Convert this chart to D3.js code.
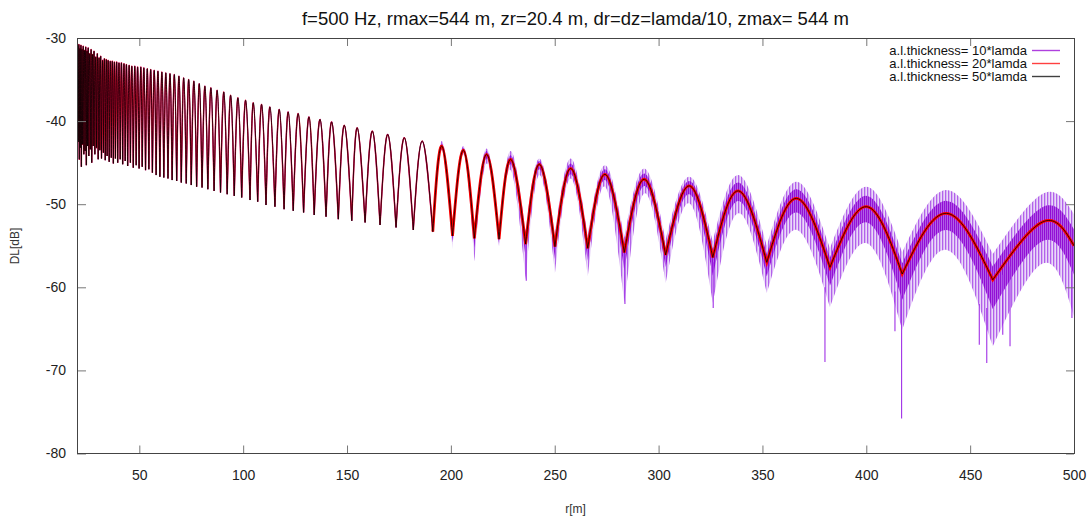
<!DOCTYPE html>
<html>
<head>
<meta charset="utf-8">
<script src="https://cdn.jsdelivr.net/npm/d3@7"></script>
<style>
body { margin: 0; background: #fff; }
svg { display: block; font-family: "Liberation Sans", Arial, sans-serif; }
</style>
</head>
<body>
<div id="chart"></div>
<script>
// series labels + axis ticks
var seriesNames = ['a.l.thickness= 10*lamda', 'a.l.thickness= 20*lamda', 'a.l.thickness= 50*lamda'];
var seriesColors = ['#9400d3', '#ff0000', '#000000'];
var xTicks = [50, 100, 150, 200, 250, 300, 350, 400, 450, 500];
var yTicks = [-30, -40, -50, -60, -70, -80];

// interference lobes (shared by 20*lamda and 50*lamda)
// maxima of each lobe
var peakR = [20.4, 20.9, 21.4, 21.9, 22.4, 23.0, 23.6, 24.2, 24.8, 25.4, 26.1, 26.8, 27.5, 28.2, 29.0,
    29.8, 30.6, 31.4, 32.3, 33.2, 34.1, 35.0, 36.0, 37.0, 38.0, 39.1, 40.2, 41.4, 42.6, 43.8, 45.1, 46.4,
    47.8, 49.2, 50.7, 52.2, 53.8, 55.5, 57.2, 59.0, 60.9, 62.8, 64.8, 66.9, 69.1, 71.4, 73.8, 76.3, 78.9,
    81.6, 84.5, 87.5, 90.7, 94.0, 97.5, 101.2, 104.9, 108.9, 112.9, 117.4, 121.7, 126.5, 131.7, 137.0,
    142.6, 148.7, 154.9, 162.2, 169.6, 177.6, 186.2, 195.6, 206.0, 217.2, 228.8, 242.6, 257.7, 274.2,
    293.1, 314.8, 338.4, 366.5, 400.2, 438.7, 485.2];
var peakDB = [-31.2, -30.8, -31.3, -30.9, -31.4, -31.0, -31.5, -31.1, -31.6, -31.2, -31.9, -31.4, -32.0,
    -31.6, -32.3, -31.9, -32.4, -32.2, -32.7, -32.5, -32.6, -32.7, -32.8, -32.8, -32.9, -32.9, -33.0, -33.0,
    -33.1, -33.2, -33.3, -33.4, -33.4, -33.5, -33.5, -33.6, -33.7, -33.8, -33.9, -34.0, -34.1, -34.2, -34.3,
    -34.4, -34.6, -34.8, -35.0, -35.2, -35.5, -35.8, -36.0, -36.3, -36.5, -36.9, -37.2, -37.5, -37.8, -38.0,
    -38.3, -38.6, -38.9, -39.1, -39.5, -39.8, -40.1, -40.5, -40.8, -41.2, -41.6, -42.0, -42.4, -43.0, -43.5,
    -44.0, -44.6, -45.2, -45.7, -46.4, -47.0, -47.8, -48.4, -49.3, -50.3, -51.1, -52.1];
// minima between the lobes (first = start of the curve, last = end at r=500)
var nullR = [20.0, 20.6, 21.1, 21.6, 22.1, 22.7, 23.3, 23.9, 24.5, 25.1, 25.7, 26.4, 27.1, 27.8, 28.6,
    29.4, 30.2, 31.0, 31.8, 32.7, 33.6, 34.5, 35.5, 36.5, 37.5, 38.5, 39.6, 40.8, 42.0, 43.2, 44.4, 45.7,
    47.1, 48.5, 49.9, 51.4, 53.0, 54.6, 56.3, 58.1, 59.9, 61.8, 63.8, 65.8, 68.0, 70.2, 72.6, 75.0, 77.6,
    80.2, 83.0, 86.0, 89.1, 92.3, 95.7, 99.3, 103.3, 107.0, 111.0, 115.3, 119.7, 124.1, 129.1, 134.2,
    139.9, 145.8, 152.3, 158.7, 165.9, 173.6, 181.9, 191.3, 200.8, 211.3, 223.2, 236.0, 250.1, 265.9,
    283.5, 303.4, 326.1, 352.1, 382.5, 417.3, 460.9, 500];
var nullDB = [-36.0, -42.5, -44.6, -43.2, -45.5, -42.8, -44.0, -43.6, -45.3, -43.0, -44.2, -43.4, -45.0,
    -43.0, -44.0, -43.2, -44.6, -43.5, -44.5, -43.8, -44.7, -44.2, -44.9, -44.4, -45.1, -44.5, -45.0, -44.6,
    -45.2, -44.8, -45.4, -45.0, -45.6, -45.3, -45.7, -45.5, -45.9, -45.8, -46.2, -46.5, -46.7, -46.8, -46.9,
    -47.1, -47.2, -47.4, -47.5, -47.7, -47.9, -48.0, -48.2, -48.4, -48.6, -48.8, -49.0, -49.2, -49.5, -49.7,
    -50.1, -50.3, -50.6, -50.8, -51.0, -51.3, -51.5, -51.8, -52.0, -52.2, -52.5, -52.8, -53.1, -53.3, -53.8,
    -54.1, -54.2, -54.8, -55.1, -55.3, -55.8, -56.1, -56.4, -57.0, -57.6, -58.4, -59.1, -55.0];

// 10*lamda: scatter of the noisy curve at each null and peak from r~190
var violetR = [191.3, 195.6, 200.8, 206.0, 211.3, 217.2, 223.2, 228.8, 236.0, 242.6, 250.1, 257.7, 265.9,
    274.2, 283.5, 293.1, 303.4, 314.8, 326.1, 338.4, 352.1, 366.5, 382.5, 400.2, 417.3, 438.7, 460.9, 485.2, 500];
// outer edge of the scatter
var violetHi = [-53.0, -42.4, -52.6, -43.0, -53.1, -43.3, -53.1, -43.6, -53.3, -44.5, -53.6, -44.5, -53.8,
    -45.3, -54.0, -45.7, -54.3, -46.7, -54.5, -46.5, -55.0, -47.3, -55.3, -47.9, -55.8, -48.3, -56.0, -48.7, -51.2];
var violetLo = [-53.6, -43.5, -55.4, -44.0, -56.9, -45.1, -55.1, -45.9, -59.1, -46.5, -58.3, -46.9, -58.7,
    -47.9, -61.9, -48.7, -59.5, -49.9, -61.9, -51.1, -60.7, -53.1, -62.4, -54.7, -65.1, -55.5, -67.1, -57.1, -63.5];
// dense core of the scatter
var violetCoreHi = [-53.1, -42.7, -53.2, -43.2, -53.6, -43.6, -53.7, -44.1, -54.0, -44.8, -54.3, -45.1, -54.5,
    -45.8, -54.9, -46.3, -55.2, -47.2, -55.4, -47.4, -56.0, -48.2, -56.4, -49.0, -57.1, -49.6, -57.5, -50.3, -53.0];
var violetCoreLo = [-53.5, -43.3, -54.6, -43.8, -55.2, -44.5, -54.7, -45.2, -56.5, -45.8, -56.6, -46.4, -56.8,
    -47.1, -58.0, -47.8, -57.6, -48.8, -58.6, -49.6, -58.7, -51.0, -59.8, -52.2, -61.5, -53.1, -62.6, -54.4, -58.5];
// deepest single spikes of the 10*lamda curve
var spikeR = [236.3, 283.8, 326.3, 380.1, 413.8, 417.0, 454.4, 458.0, 465.7, 469.2, 499.0];
var spikeTop = [-55.0, -56.0, -57.0, -60.0, -60.5, -61.0, -62.0, -62.5, -58.5, -57.5, -58.0];
var spikeBot = [-59.2, -62.0, -62.5, -69.0, -65.3, -75.8, -66.9, -69.1, -65.7, -67.1, -63.7];

function drawChart(elementId) {
    var W = 1092, H = 519;
    var svg = d3.select(elementId).append('svg')
        .attr('width', W)
        .attr('height', H);

    var x = d3.scaleLinear().domain([20, 500]).range([77, 1074]);
    var y = d3.scaleLinear().domain([-80, -30]).range([453.5, 38]);

    var defs = svg.append('defs');
    defs.append('clipPath').attr('id', 'plot-clip')
        .append('rect')
        .attr('x', 77).attr('y', 38)
        .attr('width', 1074 - 77).attr('height', 453.5 - 38);

    // vertical streak texture for the noisy curve
    var pat = defs.append('pattern')
        .attr('id', 'streaks-light')
        .attr('patternUnits', 'userSpaceOnUse')
        .attr('width', 3).attr('height', 6);
    pat.append('rect').attr('width', 3).attr('height', 6).attr('fill', '#e6d2f8');
    pat.append('rect').attr('width', 1.3).attr('height', 6).attr('fill', '#a545e6');

    var pat2 = defs.append('pattern')
        .attr('id', 'streaks-dense')
        .attr('patternUnits', 'userSpaceOnUse')
        .attr('width', 2).attr('height', 6);
    pat2.append('rect').attr('width', 2).attr('height', 6).attr('fill', '#b469ea');
    pat2.append('rect').attr('width', 1.2).attr('height', 6).attr('fill', '#8c00d2');

    // one lobe = null -> peak -> null, drawn as a natural spline
    var arch = d3.line()
        .x(function(d) { return x(d[0]); })
        .y(function(d) { return y(d[1]); })
        .curve(d3.curveNatural);

    function lobes(from) {
        var parts = [];
        for (var i = from; i < peakR.length; i++) {
            var p = arch([[nullR[i], nullDB[i]], [peakR[i], peakDB[i]], [nullR[i + 1], nullDB[i + 1]]]);
            parts.push(i === from ? p : p.replace(/^M/, 'L'));
        }
        return parts.join('');
    }

    function band(hi, lo) {
        var up = [], down = [];
        for (var j = 0; j + 2 < violetR.length; j += 2) {
            var u = arch([[violetR[j], hi[j]], [violetR[j + 1], hi[j + 1]], [violetR[j + 2], hi[j + 2]]]);
            up.push(up.length ? u.replace(/^M/, 'L') : u);
            var l = arch([[violetR[j + 2], lo[j + 2]], [violetR[j + 1], lo[j + 1]], [violetR[j], lo[j]]]);
            down.unshift(l.replace(/^M/, 'L'));
        }
        return up.join('') + down.join('') + 'Z';
    }

    var smooth = lobes(0);
    var noisyFrom = peakR.findIndex(function(r) { return r > 190; });

    var plot = svg.append('g').attr('clip-path', 'url(#plot-clip)');

    plot.append('path')
        .attr('d', smooth)
        .attr('fill', 'none')
        .attr('stroke', seriesColors[0])
        .attr('stroke-width', 1.2);

    plot.append('path')
        .attr('d', band(violetHi, violetLo))
        .attr('fill', 'url(#streaks-light)')
        .attr('fill-opacity', 0.85);

    plot.append('path')
        .attr('d', band(violetCoreHi, violetCoreLo))
        .attr('fill', 'url(#streaks-dense)')
        .attr('fill-opacity', 0.9);

    plot.selectAll('line.spike')
        .data(spikeR)
        .enter()
        .append('line')
        .attr('class', 'spike')
        .attr('x1', function(d) { return x(d); })
        .attr('x2', function(d) { return x(d); })
        .attr('y1', function(d, i) { return y(spikeTop[i]); })
        .attr('y2', function(d, i) { return y(spikeBot[i]); })
        .attr('stroke', '#a030e6')
        .attr('stroke-width', 1.1);

    // 20*lamda: thin over the whole range, a little ragged (thicker) where the 10*lamda one is noisy
    plot.append('path')
        .attr('d', smooth)
        .attr('fill', 'none')
        .attr('stroke', seriesColors[1])
        .attr('stroke-opacity', 0.75)
        .attr('stroke-width', 1.5);

    plot.append('path')
        .attr('d', lobes(noisyFrom))
        .attr('fill', 'none')
        .attr('stroke', seriesColors[1])
        .attr('stroke-width', 2.8);

    plot.append('path')
        .attr('d', smooth)
        .attr('fill', 'none')
        .attr('stroke', seriesColors[2])
        .attr('stroke-opacity', 0.85)
        .attr('stroke-width', 0.9);

    // axes, ticks pointing inwards on all four sides
    var fmt = function(d) { return String(d); };
    var gx = svg.append('g').attr('transform', 'translate(0,453.5)')
        .call(d3.axisBottom(x).tickValues(xTicks).tickFormat(fmt).tickSizeInner(-8).tickSizeOuter(0).tickPadding(16.5));
    var gy = svg.append('g').attr('transform', 'translate(77,0)')
        .call(d3.axisLeft(y).tickValues(yTicks).tickFormat(fmt).tickSizeInner(-9).tickSizeOuter(0).tickPadding(11));
    var gt = svg.append('g').attr('transform', 'translate(0,38)')
        .call(d3.axisTop(x).tickValues(xTicks).tickFormat('').tickSizeInner(-8).tickSizeOuter(0));
    var gr = svg.append('g').attr('transform', 'translate(1074,0)')
        .call(d3.axisRight(y).tickValues(yTicks).tickFormat('').tickSizeInner(-8).tickSizeOuter(0));

    [gx, gy, gt, gr].forEach(function(g) {
        g.select('.domain').remove();
        g.selectAll('.tick line').attr('stroke', '#777');
        g.selectAll('.tick text')
            .attr('fill', '#222')
            .style('font-size', '14px')
            .style('font-family', '"Liberation Sans", Arial, sans-serif');
    });

    svg.append('rect')
        .attr('x', 77.5).attr('y', 38.5)
        .attr('width', 1074 - 77).attr('height', 453.5 - 38.5)
        .attr('fill', 'none')
        .attr('stroke', '#444')
        .attr('stroke-width', 1);

    // title + axis labels
    svg.append('text')
        .attr('x', (77 + 1074) / 2)
        .attr('y', 25)
        .attr('text-anchor', 'middle')
        .attr('fill', '#111')
        .style('font-size', '18.5px')
        .text('f=500 Hz, rmax=544 m, zr=20.4 m, dr=dz=lamda/10, zmax= 544 m');

    svg.append('text')
        .attr('transform', 'translate(19,246) rotate(-90)')
        .attr('text-anchor', 'middle')
        .attr('fill', '#333')
        .style('font-size', '12px')
        .text('DL[dB]');

    svg.append('text')
        .attr('x', (77 + 1074) / 2)
        .attr('y', 513)
        .attr('text-anchor', 'middle')
        .attr('fill', '#333')
        .style('font-size', '12px')
        .text('r[m]');

    // legend, rows packed tightly as in the original
    var leg = svg.append('g').selectAll('g')
        .data(seriesNames)
        .enter()
        .append('g')
        .attr('transform', function(d, i) { return 'translate(0,' + (50.5 + i * 13) + ')'; });
    leg.append('text')
        .attr('x', 1027)
        .attr('y', 4.5)
        .attr('text-anchor', 'end')
        .attr('fill', '#111')
        .style('font-size', '13px')
        .text(function(d) { return d; });
    leg.append('line')
        .attr('x1', 1032).attr('x2', 1060)
        .attr('y1', 0).attr('y2', 0)
        .attr('stroke', function(d, i) { return seriesColors[i]; })
        .attr('stroke-opacity', 0.75)
        .attr('stroke-width', 1.4);
}

drawChart('#chart');
</script>
</body>
</html>
